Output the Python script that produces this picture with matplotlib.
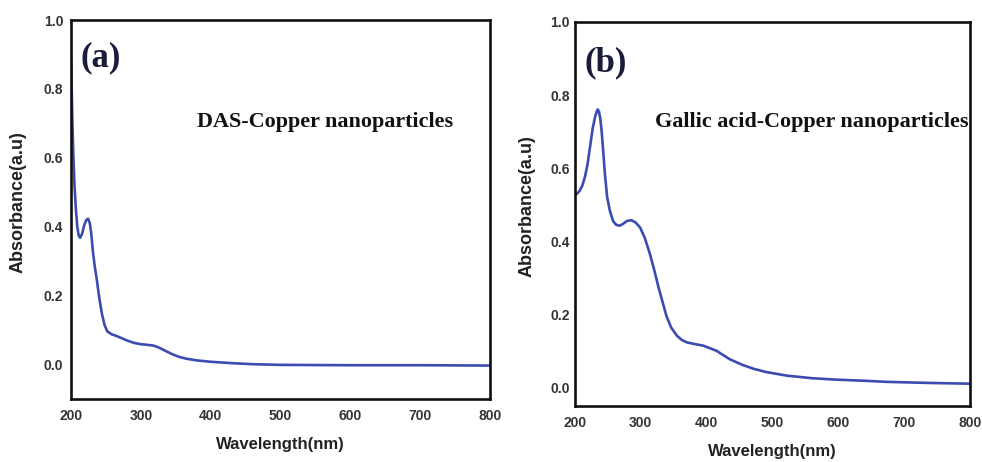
import matplotlib
matplotlib.use("Agg")
import matplotlib.pyplot as plt

# panel (a): DAS-Copper nanoparticles
wl_a = [200, 201, 202, 203.5, 205, 207, 209, 211, 213, 216, 219, 222, 224.5, 227, 229,
        231.5, 234, 237, 240, 244, 248, 252, 258, 265, 272, 280, 290, 300, 310, 318,
        325, 335, 345, 355, 365, 380, 400, 430, 460, 500, 600, 700, 800]
abs_a = [0.89, 0.80, 0.70, 0.60, 0.52, 0.45, 0.40, 0.375, 0.368, 0.38, 0.405, 0.42, 0.423,
         0.41, 0.38, 0.325, 0.285, 0.246, 0.20, 0.15, 0.115, 0.096, 0.088, 0.083, 0.077,
         0.07, 0.063, 0.059, 0.057, 0.055, 0.05, 0.04, 0.03, 0.022, 0.017, 0.012, 0.008,
         0.004, 0.001, -0.001, -0.002, -0.002, -0.003]

# panel (b): Gallic acid-Copper nanoparticles
wl_b = [200, 203, 207, 211, 215, 219, 223, 227, 230.5, 233, 234.5, 236.5, 238.5, 240.5,
        243, 245.5, 249, 253, 258, 263, 268, 273, 279, 286, 292, 299, 306, 314, 320,
        327, 333, 339, 346, 355, 362, 370, 380, 395, 415, 435, 455, 471, 490, 522,
        560, 598, 640, 674, 740, 800]
abs_b = [0.53, 0.53, 0.538, 0.552, 0.575, 0.61, 0.66, 0.71, 0.74, 0.755, 0.761, 0.755,
         0.735, 0.702, 0.645, 0.584, 0.52, 0.484, 0.455, 0.445, 0.443, 0.448, 0.456,
         0.458, 0.452, 0.438, 0.41, 0.365, 0.325, 0.274, 0.235, 0.196, 0.165, 0.142,
         0.131, 0.124, 0.12, 0.115, 0.101, 0.078, 0.062, 0.052, 0.043, 0.033, 0.026,
         0.022, 0.019, 0.016, 0.013, 0.011]

xticks = [200, 300, 400, 500, 600, 700, 800]
yticks = [0.0, 0.2, 0.4, 0.6, 0.8, 1.0]

line_color = '#3b4cb0'
tag_color = '#1b1b3a'

fig = plt.figure(figsize=(9.82, 4.62), dpi=100)
ax1 = fig.add_axes([0.0723, 0.1364, 0.4267, 0.8203])
ax2 = fig.add_axes([0.5855, 0.1212, 0.4022, 0.8312])

panels = [
    (ax1, wl_a, abs_a, -0.1, '(a)', 'DAS-Copper nanoparticles', (213, 0.89), (380, 0.69), 5.5, -0.107),
    (ax2, wl_b, abs_b, -0.05, '(b)', 'Gallic acid-Copper nanoparticles', (215, 0.888), (321, 0.713), 3.5, -0.101),
]

for ax, x, y, ymin, tag, name, tag_pos, name_pos, ypad, ylab_x in panels:
    ax.plot(x, y, color=line_color, lw=1.9, solid_joinstyle='round')
    ax.set_xlim(200, 800)
    ax.set_ylim(ymin, 1.0)
    ax.set_xticks(xticks)
    ax.set_yticks(yticks)
    ax.set_xticklabels([str(v) for v in xticks])
    ax.set_yticklabels(['%.1f' % v for v in yticks])
    for lab in ax.get_xticklabels() + ax.get_yticklabels():
        lab.set_fontfamily('Liberation Sans')
        lab.set_fontweight('bold')
        lab.set_fontsize(10)
        lab.set_color('#333333')
    ax.tick_params(axis='x', length=0, pad=7.5)
    ax.tick_params(axis='y', length=0, pad=ypad)
    for sp in ax.spines.values():
        sp.set_linewidth(1.9)
        sp.set_color('#111111')
    ax.set_xlabel('Wavelength(nm)', fontfamily='Liberation Sans', fontweight='bold',
                  fontsize=12, color='#222222')
    ax.set_ylabel('Absorbance(a.u)', fontfamily='Liberation Sans', fontweight='bold',
                  fontsize=13, color='#222222')
    ax.xaxis.set_label_coords(0.5, -0.10)
    ax.yaxis.set_label_coords(ylab_x, 0.52)
    ax.text(tag_pos[0], tag_pos[1], tag, fontfamily='Liberation Serif', fontweight='bold',
            fontsize=25, color=tag_color, ha='left', va='center')
    ax.text(name_pos[0], name_pos[1], name, fontfamily='Liberation Serif', fontweight='bold',
            fontsize=15.9, color='#111111', ha='left', va='baseline')

fig.savefig('out.png', dpi=100)
